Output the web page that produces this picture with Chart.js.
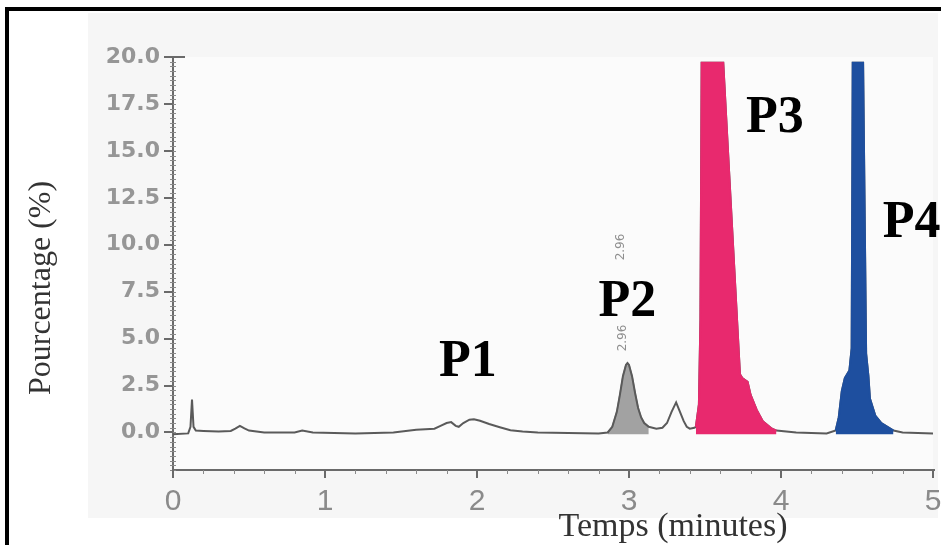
<!DOCTYPE html>
<html>
<head>
<meta charset="utf-8">
<script src="https://cdn.jsdelivr.net/npm/chart.js@4/dist/chart.umd.min.js"></script>
<style>
  html, body { margin: 0; padding: 0; background: #ffffff; }
  #wrap { width: 948px; height: 545px; position: relative; }
</style>
</head>
<body>
<div id="wrap"><canvas id="chromato" width="948" height="545"></canvas></div>
<script>
// Chromatogram trace: retention time (minutes) and signal (%)
const times = [
  0.00, 0.10, 0.115, 0.125, 0.135, 0.15, 0.20, 0.30, 0.38, 0.41, 0.44, 0.47,
  0.50, 0.60, 0.80, 0.85, 0.92, 1.20, 1.45, 1.60, 1.72, 1.76, 1.80, 1.83,
  1.86, 1.88, 1.91, 1.95, 1.98, 2.02, 2.08, 2.15, 2.22, 2.30, 2.40, 2.80,
  2.86, 2.89, 2.92, 2.94, 2.96, 2.98, 2.99, 3.00, 3.02, 3.04, 3.06, 3.08,
  3.10, 3.13, 3.18, 3.22, 3.25, 3.28, 3.31, 3.33, 3.36, 3.38, 3.40, 3.43,
  3.44, 3.46, 3.47, 3.478, 3.62, 3.73, 3.745, 3.78, 3.80, 3.84, 3.88, 3.91,
  3.94, 3.97, 4.10, 4.30, 4.36, 4.38, 4.40, 4.42, 4.45, 4.465, 4.472, 4.54,
  4.56, 4.575, 4.585, 4.62, 4.66, 4.70, 4.74, 4.80, 5.00
];
const signal = [
  -0.10, -0.05, 0.30, 1.75, 0.30, 0.10, 0.08, 0.05, 0.08, 0.20, 0.35, 0.22,
  0.10, 0.00, 0.00, 0.10, 0.00, -0.05, 0.00, 0.15, 0.20, 0.35, 0.50, 0.55,
  0.35, 0.30, 0.50, 0.68, 0.70, 0.62, 0.45, 0.28, 0.12, 0.05, 0.00, -0.05,
  0.00, 0.30, 1.10, 2.00, 3.00, 3.60, 3.70, 3.60, 3.00, 2.10, 1.30, 0.80,
  0.50, 0.30, 0.20, 0.25, 0.50, 1.10, 1.60, 1.20, 0.60, 0.30, 0.20, 0.25,
  0.30, 1.50, 6.00, 19.70, 19.70, 3.10, 2.90, 2.70, 2.00, 1.20, 0.60, 0.40,
  0.20, 0.10, 0.00, -0.05, 0.10, 0.80, 2.20, 2.90, 3.30, 4.50, 19.70, 19.70,
  4.20, 3.00, 1.80, 0.90, 0.50, 0.30, 0.10, 0.00, -0.05
];

// Integrated peaks (time windows) and their colours
const peakStart = [2.86, 3.44, 4.36];
const peakEnd   = [3.13, 3.97, 4.74];
const peakFill  = ['#a2a2a2', '#e8296e', '#1e4f9f'];
const peakEdge  = ['#8c8c8c', '#e8296e', '#1e4f9f'];

// Peak names with their anchor (time, %)
const peakNames = ['P1', 'P2', 'P3', 'P4'];
const peakNameTime  = [1.94, 2.99, 3.96, 4.86];
const peakNameLevel = [3.0, 6.2, 16.0, 10.4];

// Axis ticks
const yTicks = [0, 2.5, 5, 7.5, 10, 12.5, 15, 17.5, 20];
const xTicks = [0, 1, 2, 3, 4, 5];

const tracePoints = times.map((t, i) => ({ x: t, y: signal[i] }));
const baseLevel = -0.1;

const peakSets = peakStart.map((s, k) => ({
  data: tracePoints.filter(p => p.x >= s && p.x <= peakEnd[k]),
  borderColor: peakEdge[k],
  backgroundColor: peakFill[k],
  borderWidth: k === 0 ? 1.5 : 2,
  pointRadius: 0,
  tension: 0,
  fill: { value: baseLevel },
  order: k === 0 ? 3 : 1
}));

const decor = {
  id: 'decor',
  beforeDraw(chart) {
    const ctx = chart.ctx;
    ctx.save();
    ctx.fillStyle = '#ffffff';
    ctx.fillRect(0, 0, chart.width, chart.height);
    ctx.fillStyle = '#f6f6f6';
    ctx.fillRect(88, 13, 850, 505);
    ctx.fillStyle = '#fbfbfb';
    const a = chart.chartArea;
    ctx.fillRect(a.left, a.top, a.right - a.left, a.bottom - a.top);
    ctx.restore();
  },
  beforeDatasetsDraw(chart) {
    const ctx = chart.ctx;
    const xs = chart.scales.x, ys = chart.scales.y;
    const a = chart.chartArea;
    ctx.save();
    ctx.strokeStyle = '#6a6a6a';
    ctx.lineWidth = 2;
    // axis lines
    ctx.beginPath();
    ctx.moveTo(a.left, a.top);
    ctx.lineTo(a.left, a.bottom);
    ctx.moveTo(a.left, a.bottom);
    ctx.lineTo(a.right + 2, a.bottom);
    ctx.stroke();
    // y minor ticks every 0.25
    ctx.lineWidth = 1;
    ctx.strokeStyle = '#8a8a8a';
    ctx.beginPath();
    for (let v = -2; v <= 20.001; v += 0.25) {
      const py = Math.round(ys.getPixelForValue(v)) + 0.5;
      ctx.moveTo(a.left - 3, py);
      ctx.lineTo(a.left + 3, py);
    }
    // x minor ticks every 0.2
    for (let t = 0; t <= 5.001; t += 0.2) {
      const px = Math.round(xs.getPixelForValue(t)) + 0.5;
      ctx.moveTo(px, a.bottom);
      ctx.lineTo(px, a.bottom + 4);
    }
    ctx.stroke();
    // major ticks
    ctx.lineWidth = 2;
    ctx.strokeStyle = '#6a6a6a';
    ctx.beginPath();
    yTicks.forEach(v => {
      const py = Math.round(ys.getPixelForValue(v));
      ctx.moveTo(a.left - 9, py);
      ctx.lineTo(v === 20 ? a.left + 12 : a.left, py);
    });
    xTicks.forEach(t => {
      const px = Math.round(xs.getPixelForValue(t));
      ctx.moveTo(px, a.bottom);
      ctx.lineTo(px, a.bottom + 8);
    });
    ctx.stroke();
    ctx.restore();
  },
  afterDraw(chart) {
    const ctx = chart.ctx;
    const xs = chart.scales.x, ys = chart.scales.y;
    ctx.save();
    // retention time marks above P2
    ctx.fillStyle = '#8e8e8e';
    ctx.font = '12px "DejaVu Sans"';
    ctx.textAlign = 'center';
    ctx.textBaseline = 'middle';
    [[621, 247], [623, 338]].forEach(([px, py]) => {
      ctx.save();
      ctx.translate(px, py);
      ctx.rotate(-Math.PI / 2);
      ctx.fillText('2.96', 0, 0);
      ctx.restore();
    });
    // peak names
    ctx.fillStyle = '#000000';
    ctx.font = 'bold 52px "Liberation Serif"';
    ctx.textAlign = 'center';
    ctx.textBaseline = 'alphabetic';
    peakNames.forEach((n, i) => {
      ctx.fillText(n, xs.getPixelForValue(peakNameTime[i]), ys.getPixelForValue(peakNameLevel[i]));
    });
    // axis titles
    ctx.fillStyle = '#333333';
    ctx.font = '32px "Liberation Serif"';
    ctx.save();
    ctx.translate(42, 288);
    ctx.rotate(-Math.PI / 2);
    ctx.textBaseline = 'middle';
    ctx.fillText('Pourcentage (%)', 0, 0);
    ctx.restore();
    ctx.font = '34px "Liberation Serif"';
    ctx.fillText('Temps (minutes)', 673, 536);
    // frame
    ctx.fillStyle = '#000000';
    ctx.fillRect(5, 7, 936, 4);
    ctx.fillRect(5, 7, 4, 538);
    ctx.restore();
  }
};

new Chart(document.getElementById('chromato'), {
  type: 'line',
  data: {
    datasets: [
      {
        data: tracePoints,
        borderColor: '#5a5a5a',
        borderWidth: 2,
        pointRadius: 0,
        fill: false,
        tension: 0,
        order: 2
      },
      ...peakSets
    ]
  },
  options: {
    responsive: false,
    animation: false,
    devicePixelRatio: 1,
    layout: { padding: { left: 0, top: 57, right: 15, bottom: 0 } },
    plugins: { legend: { display: false }, tooltip: { enabled: false } },
    scales: {
      x: {
        type: 'linear',
        min: 0,
        max: 5,
        afterBuildTicks: s => { s.ticks = xTicks.map(v => ({ value: v })); },
        afterFit: s => { s.height = 75; s.paddingLeft = 0; s.paddingRight = 0; },
        grid: { display: false, drawTicks: false },
        border: { display: false },
        ticks: {
          padding: 14,
          color: '#8a8a8a',
          font: { family: '"Liberation Sans"', size: 30 },
          callback: v => String(v)
        }
      },
      y: {
        type: 'linear',
        min: -2,
        max: 20,
        afterBuildTicks: s => { s.ticks = yTicks.map(v => ({ value: v })); },
        afterFit: s => { s.width = 173; s.paddingTop = 0; s.paddingBottom = 0; },
        grid: { display: false, drawTicks: false },
        border: { display: false },
        ticks: {
          padding: 13,
          color: '#969696',
          font: { family: '"DejaVu Sans"', size: 22, weight: 'bold' },
          callback: v => v.toFixed(1)
        }
      }
    }
  },
  plugins: [decor]
});
</script>
</body>
</html>
